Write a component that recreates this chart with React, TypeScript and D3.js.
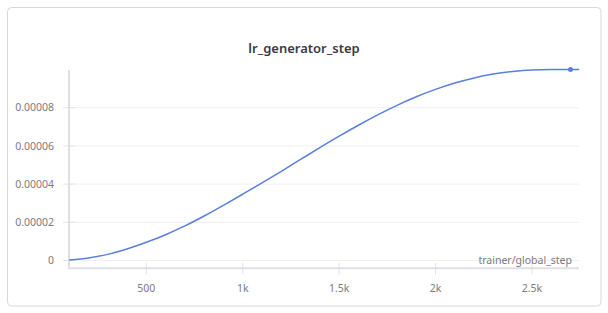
import React from "react";
import * as d3 from "d3";

const steps = [100, 200, 300, 400, 500, 600, 700, 800, 900, 1000, 1100, 1200, 1300, 1400, 1500, 1600, 1700, 1800, 1900, 2000, 2100, 2200, 2300, 2400, 2500, 2600, 2700, 2745];
const lrValues = [0.3e-6, 1.3e-6, 3.2e-6, 6.0e-6, 9.5e-6, 13.5e-6, 18.1e-6, 23.3e-6, 28.9e-6, 34.7e-6, 40.6e-6, 46.7e-6, 52.9e-6, 59.1e-6, 65.1e-6, 70.8e-6, 76.2e-6, 81.2e-6, 85.7e-6, 89.6e-6, 92.9e-6, 95.6e-6, 97.6e-6, 99.0e-6, 99.8e-6, 100e-6, 100e-6, 100e-6];
const markerStep = 2700;
const markerValue = 100e-6;
const xTicks = [500, 1000, 1500, 2000, 2500];
const xTickLabels = ["500", "1k", "1.5k", "2k", "2.5k"];
const yTicks = [0, 0.00002, 0.00004, 0.00006, 0.00008];
const yTickLabels = ["0", "0.00002", "0.00004", "0.00006", "0.00008"];
const title = "lr_generator_step";
const xLabel = "trainer/global_step";

export default function App() {
  const W = 608, H = 313;
  const left = 69, right = 579, top = 69.5, bottom = 268.3;
  const x = d3.scaleLinear().domain([99, 2744]).range([left, right]);
  const y = d3.scaleLinear().domain([-4.1e-6, 1.0e-4]).range([bottom, top]);
  const pts = steps.map((s, i) => [s, lrValues[i]] as [number, number]);
  const line = d3.line<[number, number]>().x(d => x(d[0])).y(d => y(d[1])).curve(d3.curveMonotoneX);
  const font = "'Source Sans Pro', 'Noto Sans', sans-serif";
  return (
    <svg width={W} height={H} style={{ position: "absolute", left: 0, top: 0 }} fontFamily={font}>
      <rect x={0} y={0} width={W} height={H} fill="#ffffff" />
      <rect x={7.5} y={7.5} width={593.5} height={298.5} rx={4} fill="#ffffff" stroke="#d8d8dc" strokeWidth={1} />
      <text x={304} y={53} textAnchor="middle" fontSize={13} fontWeight={600} fill="#3a3a44">{title}</text>
      {yTicks.map((t, i) => (
        <g key={"y" + i}>
          <line x1={left} x2={right} y1={y(t)} y2={y(t)} stroke="#efeff2" strokeWidth={1} />
          <line x1={63} x2={75} y1={y(t)} y2={y(t)} stroke="#e2e2e8" strokeWidth={1} />
          <text x={54} y={y(t)} dy="0.35em" textAnchor="end" fontSize={10.5} fill="#7a7a84">{yTickLabels[i]}</text>
        </g>
      ))}
      {xTicks.map((t, i) => (
        <g key={"x" + i}>
          <line x1={x(t)} x2={x(t)} y1={263} y2={274.5} stroke="#e2e2e8" strokeWidth={1} />
          <text x={x(t)} y={292} textAnchor="middle" fontSize={10.5} fill="#7a7a84">{xTickLabels[i]}</text>
        </g>
      ))}
      <line x1={left} x2={left} y1={70} y2={bottom + 1} stroke="#dedee5" strokeWidth={2} />
      <line x1={left} x2={right} y1={bottom} y2={bottom} stroke="#dedee5" strokeWidth={2} />
      <text x={572} y={264} textAnchor="end" fontSize={10.5} fill="#7a7a84">{xLabel}</text>
      <path d={line(pts) || ""} fill="none" stroke="#5a7fe0" strokeWidth={1.5} />
      <circle cx={x(markerStep)} cy={y(markerValue)} r={2.5} fill="#5a7fe0" />
    </svg>
  );
}
